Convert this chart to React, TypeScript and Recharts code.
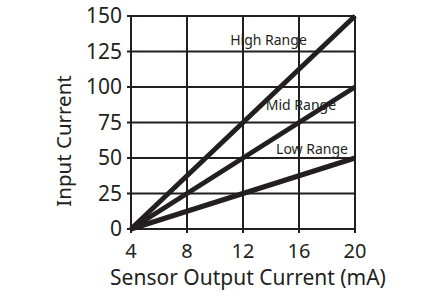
import React from "react";
import { LineChart, Line, XAxis, YAxis, CartesianGrid, ReferenceDot, Label } from "recharts";

const outputCurrent = [4, 8, 12, 16, 20];
const highRange = [0, 37.5, 75, 112.5, 150];
const midRange = [0, 25, 50, 75, 100];
const lowRange = [0, 12.5, 25, 37.5, 50];
const xTicks = [4, 8, 12, 16, 20];
const yTicks = [0, 25, 50, 75, 100, 125, 150];
const seriesNames = ["High Range", "Mid Range", "Low Range"];
const labelAnchors = [
  { x: 13.82, y: 133 },
  { x: 16.14, y: 87.5 },
  { x: 16.93, y: 56.6 },
];

const data = outputCurrent.map((x, i) => ({
  x,
  high: highRange[i],
  mid: midRange[i],
  low: lowRange[i],
}));

const INK = "#231f20";
const FONT = "'Noto Sans', sans-serif";

export default function App() {
  return (
    <div style={{ position: "absolute", left: 0, top: 0, background: "#fff" }}>
      <LineChart
        width={425}
        height={297}
        data={data}
        margin={{ top: 16, right: 70, bottom: 0, left: 0 }}
      >
        <CartesianGrid stroke={INK} strokeWidth={2} />
        <XAxis
          dataKey="x"
          type="number"
          domain={[4, 20]}
          ticks={xTicks}
          height={68}
          stroke={INK}
          strokeWidth={2}
          tickSize={4}
          tickMargin={11}
          tick={{ fill: INK, fontSize: 20, fontFamily: FONT }}
        >
          <Label
            content={() => (
              <text x={248} y={285} textAnchor="middle" fill={INK} fontSize={21} fontFamily={FONT}>
                Sensor Output Current (mA)
              </text>
            )}
          />
        </XAxis>
        <YAxis
          type="number"
          domain={[0, 150]}
          ticks={yTicks}
          width={131}
          stroke={INK}
          strokeWidth={2}
          tickSize={4}
          tickMargin={5}
          tick={{ fill: INK, fontSize: 21, fontFamily: FONT }}
        >
          <Label
            content={() => (
              <text
                x={63}
                y={141}
                transform="rotate(-90 63 141)"
                textAnchor="middle"
                dominantBaseline="central"
                fill={INK}
                fontSize={20.5}
                fontFamily={FONT}
              >
                Input Current
              </text>
            )}
          />
        </YAxis>
        <Line dataKey="high" stroke={INK} strokeWidth={5} dot={false} isAnimationActive={false} />
        <Line dataKey="mid" stroke={INK} strokeWidth={5} dot={false} isAnimationActive={false} />
        <Line dataKey="low" stroke={INK} strokeWidth={5} dot={false} isAnimationActive={false} />
        {seriesNames.map((name, i) => (
          <ReferenceDot
            key={name}
            x={labelAnchors[i].x}
            y={labelAnchors[i].y}
            r={0}
            stroke="none"
            fill="none"
          >
            <Label
              value={name}
              position="center"
              style={{ fill: INK, fontSize: 14, fontFamily: FONT }}
            />
          </ReferenceDot>
        ))}
      </LineChart>
    </div>
  );
}
